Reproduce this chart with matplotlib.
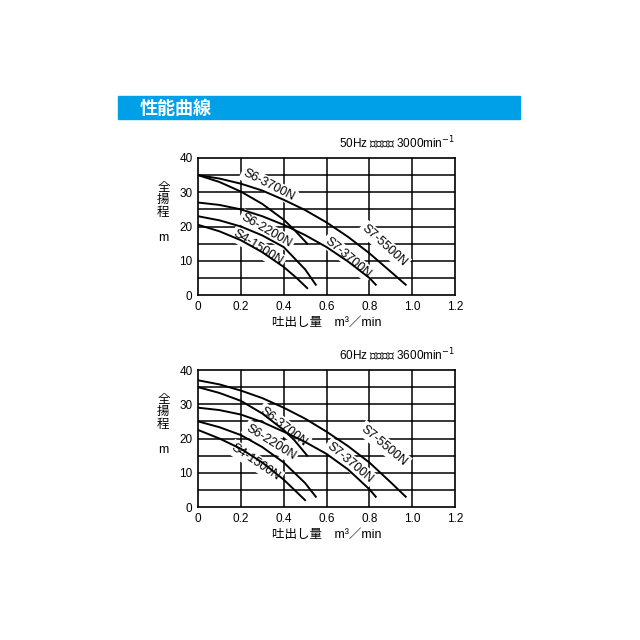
import matplotlib
matplotlib.use("Agg")
import matplotlib.pyplot as plt
from matplotlib.patches import Rectangle

plt.rcParams['font.family'] = ['Liberation Sans', 'Noto Sans CJK JP', 'DejaVu Sans']

# 50Hz curves: (flow m3/min, head m)
hz50 = {
    "S7-5500N": ([0, 0.1, 0.2, 0.3, 0.4, 0.5, 0.6, 0.7, 0.8, 0.9, 0.97],
                 [35, 34, 32.5, 30.5, 27.8, 24.8, 21.2, 17, 12.2, 6.8, 3]),
    "S6-3700N": ([0, 0.1, 0.2, 0.3, 0.4, 0.45, 0.51],
                 [35, 33, 30.2, 26.6, 22, 19, 15]),
    "S7-3700N": ([0, 0.1, 0.2, 0.3, 0.4, 0.5, 0.6, 0.7, 0.8, 0.83],
                 [27, 26.3, 25, 23, 20.5, 17.5, 14, 9.8, 5, 3]),
    "S6-2200N": ([0, 0.1, 0.2, 0.3, 0.4, 0.5, 0.55],
                 [23, 21.8, 20, 17.4, 14, 7.5, 3]),
    "S4-1500N": ([0, 0.1, 0.2, 0.3, 0.4, 0.46, 0.51],
                 [20.5, 18.6, 16, 12.5, 8.2, 5, 2]),
}
hz60 = {
    "S7-5500N": ([0, 0.1, 0.2, 0.3, 0.4, 0.5, 0.6, 0.7, 0.8, 0.9, 0.97],
                 [37, 35.8, 34, 31.8, 29, 25.8, 22, 17.8, 13, 7.2, 3]),
    "S6-3700N": ([0, 0.1, 0.2, 0.3, 0.4, 0.45, 0.51],
                 [35, 33.3, 31, 27.3, 22.5, 19.5, 15]),
    "S7-3700N": ([0, 0.1, 0.2, 0.3, 0.4, 0.5, 0.6, 0.7, 0.8, 0.83],
                 [29, 28.3, 27, 24.8, 22, 19, 15.5, 11, 5.2, 3]),
    "S6-2200N": ([0, 0.1, 0.2, 0.3, 0.4, 0.5, 0.55],
                 [25, 23.3, 21, 17.5, 13, 7, 3]),
    "S4-1500N": ([0, 0.1, 0.2, 0.3, 0.4, 0.45, 0.5],
                 [22.5, 20, 17, 13, 8, 5, 2]),
}
# label anchor (x, y, rotation)
labels50 = {
    "S6-3700N": (0.33, 32.0, -27), "S7-5500N": (0.87, 14.5, -42),
    "S7-3700N": (0.7, 11.0, -40), "S6-2200N": (0.32, 18.8, -30),
    "S4-1500N": (0.28, 13.8, -32),
}
labels60 = {
    "S6-3700N": (0.4, 23.5, -38), "S7-5500N": (0.87, 18.0, -40),
    "S7-3700N": (0.71, 13.0, -40), "S6-2200N": (0.34, 19.0, -32),
    "S4-1500N": (0.27, 13.0, -34),
}
xticks = [0, 0.2, 0.4, 0.6, 0.8, 1.0, 1.2]
xticklabels = ["0", "0.2", "0.4", "0.6", "0.8", "1.0", "1.2"]
yticks = [0, 10, 20, 30, 40]

fig = plt.figure(figsize=(6.4, 6.4), dpi=100)
fig.patches.append(Rectangle((118 / 640, 1 - 119 / 640), 402 / 640, 23 / 640,
                             transform=fig.transFigure, color="#00a0e9", zorder=0))
fig.text(140 / 640, 1 - 108 / 640, "性能曲線", color="white", fontsize=13,
         fontweight="bold", va="center", family=["Noto Sans CJK JP"])


def panel(bottom, curves, labels, title):
    ax = fig.add_axes([198 / 640, bottom, 257 / 640, 137 / 640])
    ax.set_xlim(0, 1.2)
    ax.set_ylim(0, 40)
    for v in xticks[1:-1]:
        ax.axvline(v, color="black", lw=1.1, zorder=1)
    for h in range(5, 40, 5):
        ax.axhline(h, color="black", lw=1.1, zorder=1)
    for name, (x, y) in curves.items():
        ax.plot(x, y, color="black", lw=1.4, zorder=3)
    for name, (x, y, r) in labels.items():
        ax.text(x, y, name, rotation=r, ha="center", va="center", fontsize=9,
                zorder=2, bbox=dict(facecolor="white", edgecolor="none", pad=1.5))
    ax.set_xticks(xticks)
    ax.set_xticklabels(xticklabels)
    ax.set_yticks(yticks)
    ax.tick_params(length=0, labelsize=8.5, pad=4)
    for s in ax.spines.values():
        s.set_linewidth(1.2)
    ax.set_xlabel("吐出し量　m³／min", fontsize=9, labelpad=3)
    ax.text(-0.135, 0.6, "全\n揚\n程\n\nm", transform=ax.transAxes, fontsize=9,
            ha="center", va="center", linespacing=1.05)
    ax.text(1.0, 1.05, title, transform=ax.transAxes, ha="right", va="bottom",
            fontsize=8.5)
    return ax


panel(1 - 295 / 640, hz50, labels50, "50Hz 同期速度 3000min$^{-1}$")
panel(1 - 507 / 640, hz60, labels60, "60Hz 同期速度 3600min$^{-1}$")

fig.savefig("out.png", dpi=100)
